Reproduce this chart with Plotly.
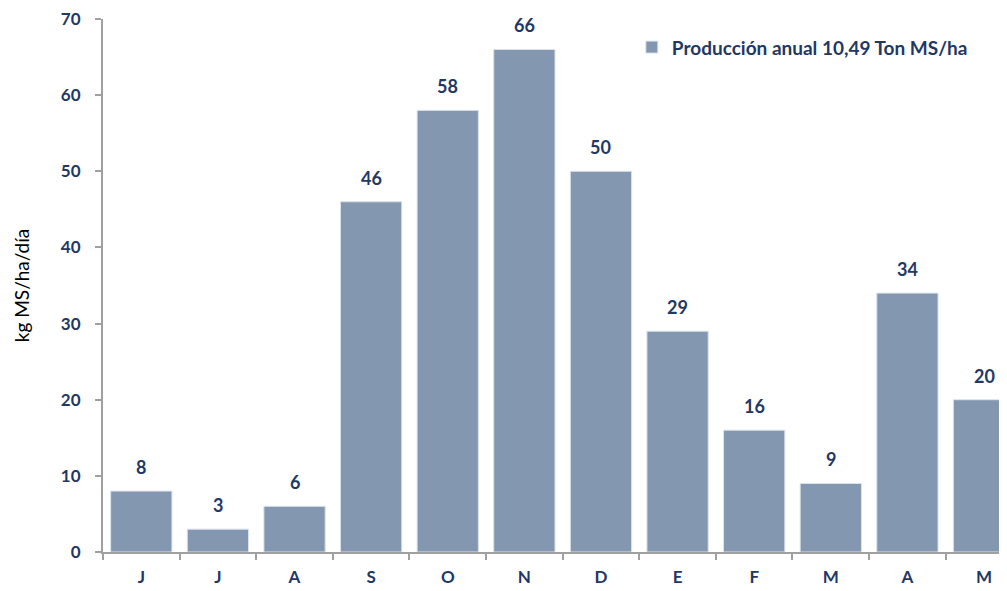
import plotly.graph_objects as go

months = ["J", "J", "A", "S", "O", "N", "D", "E", "F", "M", "A", "M"]
values = [8, 3, 6, 46, 58, 66, 50, 29, 16, 9, 34, 20]
series_name = "Producción anual 10,49 Ton MS/ha"
y_title = "kg MS/ha/día"
y_ticks = [0, 10, 20, 30, 40, 50, 60, 70]

NAVY = "#1F3864"
BAR = "#8497B0"
AXIS = "#A0A0A0"
FONT = "Lato, 'Open Sans', sans-serif"

xs = list(range(len(months)))

fig = go.Figure()
fig.add_trace(go.Bar(
    x=xs, y=values, name=series_name,
    marker=dict(color=BAR, line=dict(color="#DDE3EC", width=1)),
    showlegend=True,
))

for x, v in zip(xs, values):
    fig.add_annotation(x=x, y=v, text=f"<b>{v}</b>", showarrow=False,
                       yshift=24, yanchor="middle",
                       font=dict(family=FONT, size=18, color=NAVY))

# page body has an 8px margin, so the figure is offset by (8, 8)
fig.update_layout(
    width=999, height=583,
    margin=dict(l=95, r=0, t=11, b=39, autoexpand=False),
    paper_bgcolor="white", plot_bgcolor="white",
    bargap=0.2,
    font=dict(family=FONT, size=15, color=NAVY),
    legend=dict(x=0.585, y=0.947, xanchor="left", yanchor="middle",
                font=dict(family=FONT, size=19, color=NAVY, weight="bold"),
                bgcolor="rgba(0,0,0,0)", itemwidth=30),
    xaxis=dict(
        range=[-0.5, 11.3], automargin=False,
        tickvals=xs, ticktext=[f"<b>{m}</b>" for m in months],
        ticks="", showgrid=False, zeroline=False,
        showline=True, linecolor=AXIS, linewidth=2,
        ticklabelstandoff=9, ticklabeloverflow="allow",
        tickfont=dict(family=FONT, size=17, color=NAVY),
        minor=dict(ticks="outside", tick0=0.5, dtick=1, ticklen=6,
                   tickcolor=AXIS, tickwidth=2, showgrid=False),
    ),
    yaxis=dict(
        range=[0, 70], tickvals=y_ticks, automargin=False,
        ticktext=[f"<b>{t}</b>" for t in y_ticks],
        ticks="outside", ticklen=6, tickcolor=AXIS, tickwidth=2,
        showgrid=False, zeroline=False,
        showline=True, linecolor=AXIS, linewidth=2,
        ticklabelstandoff=11, ticklabeloverflow="allow",
        tickfont=dict(family=FONT, size=17, color=NAVY),
        title=dict(text=y_title, standoff=26,
                   font=dict(family=FONT, size=19, color="black")),
    ),
)

fig.write_html("out.html")
